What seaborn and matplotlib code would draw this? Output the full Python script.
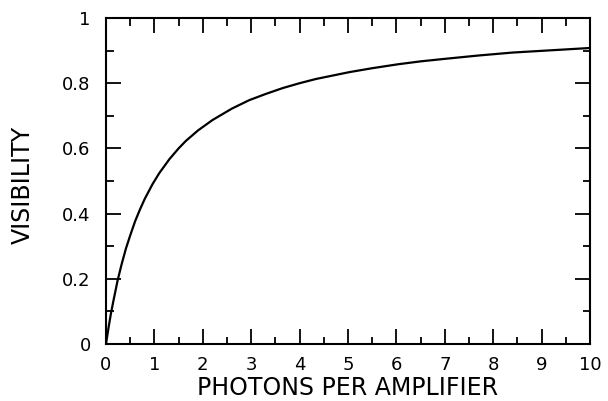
import matplotlib
matplotlib.use("Agg")
import matplotlib.pyplot as plt
from matplotlib.ticker import MultipleLocator
import seaborn as sns
import pandas as pd

# Values
photons = [0.0, 0.05, 0.10, 0.15, 0.24, 0.32, 0.41, 0.50, 0.60, 0.70, 0.80, 0.96, 1.10, 1.31, 1.50, 1.65,
           1.90, 2.20, 2.60, 2.96, 3.30, 3.65, 4.00, 4.34, 5.03, 5.50, 6.03, 6.50, 7.02, 7.70, 8.40, 9.20, 10.0]
visibility = [0.0, 0.048, 0.092, 0.130, 0.195, 0.243, 0.292, 0.333, 0.376, 0.412, 0.445, 0.490, 0.524,
              0.567, 0.600, 0.623, 0.655, 0.687, 0.722, 0.748, 0.767, 0.785, 0.800, 0.813, 0.834, 0.846,
              0.858, 0.867, 0.875, 0.885, 0.894, 0.901, 0.908]

x_ticks = [0, 1, 2, 3, 4, 5, 6, 7, 8, 9, 10]
x_tick_labels = ["0", "1", "2", "3", "4", "5", "6", "7", "8", "9", "10"]
y_ticks = [0, 0.2, 0.4, 0.6, 0.8, 1.0]
y_tick_labels = ["0", "0.2", "0.4", "0.6", "0.8", "1"]

df = pd.DataFrame({"photons": photons, "visibility": visibility})

sns.set_style("ticks")
plt.rcParams["font.family"] = ["DejaVu Sans"]
plt.rcParams["text.color"] = "black"
plt.rcParams["axes.labelcolor"] = "black"
plt.rcParams["xtick.labelcolor"] = "black"
plt.rcParams["ytick.labelcolor"] = "black"

fig = plt.figure(figsize=(6.08, 4.01), dpi=100)
ax = fig.add_axes([106 / 608, 1 - 344 / 401, 484 / 608, 326 / 401])

sns.lineplot(data=df, x="photons", y="visibility", ax=ax, color="black", linewidth=1.6, sort=False)

ax.set_xlim(0, 10)
ax.set_ylim(0, 1)
ax.set_xticks(x_ticks)
ax.set_xticklabels(x_tick_labels)
ax.set_yticks(y_ticks)
ax.set_yticklabels(y_tick_labels)
ax.xaxis.set_minor_locator(MultipleLocator(0.5))
ax.yaxis.set_minor_locator(MultipleLocator(0.1))

ax.tick_params(which="both", direction="in", top=True, right=True, width=1.3, color="black")
ax.tick_params(which="major", length=10.8)
ax.tick_params(which="minor", length=5.4)
ax.tick_params(axis="x", which="major", pad=8.5, labelsize=13)
ax.tick_params(axis="y", which="major", pad=11, labelsize=13)

for s in ax.spines.values():
    s.set_visible(True)
    s.set_linewidth(1.5)
    s.set_color("black")

ax.set_xlabel("PHOTONS PER AMPLIFIER", fontsize=17, color="black", va="center")
ax.set_ylabel("VISIBILITY", fontsize=17, color="black", va="center")
ax.xaxis.set_label_coords(0.5, -0.135)
ax.yaxis.set_label_coords(-0.1725, 0.488)

fig.savefig("out.png", dpi=100)
